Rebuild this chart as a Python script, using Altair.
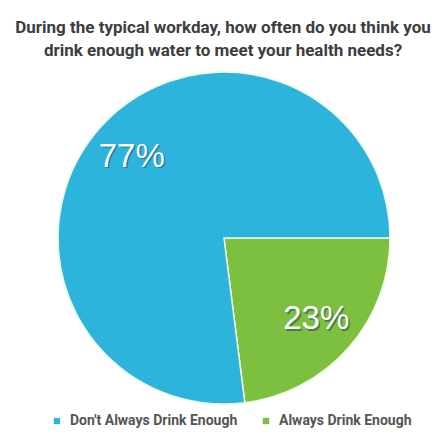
import altair as alt
import pandas as pd
import math

# Survey answers, shares in percent
answers = ["Always Drink Enough", "Don't Always Drink Enough"]
shares = [23, 77]
labels = ["23%", "77%"]
draw_order = [0, 1]

legend_order = ["Don't Always Drink Enough", "Always Drink Enough"]
palette = ["#2cb4dc", "#7dbf3e"]

df = pd.DataFrame({"answer": answers, "share": shares, "label": labels, "ord": draw_order})

head_font = "Roboto, Liberation Sans, sans-serif"

cx, cy, R = 224, 168, 166
start = math.pi / 2

theta = alt.Theta("share:Q", stack=True,
                  scale=alt.Scale(range=[start, start + 2 * math.pi]))
color = alt.Color("answer:N",
                  scale=alt.Scale(domain=legend_order, range=palette),
                  legend=alt.Legend(title=None, orient="none", direction="horizontal",
                                    legendX=50, legendY=344, symbolType="square",
                                    symbolSize=40, symbolStrokeWidth=0,
                                    labelFont=head_font, labelFontSize=14,
                                    labelFontWeight="bold", labelColor="#555555",
                                    labelLimit=400, columnPadding=21, labelOffset=6))

base = alt.Chart(df).encode(
    theta=theta,
    order=alt.Order("ord:Q"),
    x=alt.value(cx),
    y=alt.value(cy),
)

pie = base.mark_arc(outerRadius=R, stroke="#eefbe2", strokeWidth=1.5).encode(color=color)

shadow = base.mark_text(radius=123, fontSize=33, font="Liberation Sans, Arial, sans-serif",
                        color="#1d4a5a", opacity=0.55, dx=1.5, dy=1.5).encode(text="label:N")
text = base.mark_text(radius=123, fontSize=33, font="Liberation Sans, Arial, sans-serif",
                      color="#ffffff").encode(text="label:N")

chart = alt.layer(pie, shadow, text).properties(
    width=446,
    height=336,
    padding={"left": 0, "top": 70, "right": 0, "bottom": 40},
    autosize=alt.AutoSizeParams(type="none"),
    background="#ffffff",
    title=alt.TitleParams(
        text=["During the typical workday, how often do you think you",
              "drink enough water to meet your health needs?"],
        font=head_font, fontSize=17, fontWeight="bold", color="#3d3d3d",
        anchor="middle", offset=9, lineHeight=23,
    ),
).configure_view(stroke=None)

chart.save("out.html", embed_options={"renderer": "svg", "actions": False})
